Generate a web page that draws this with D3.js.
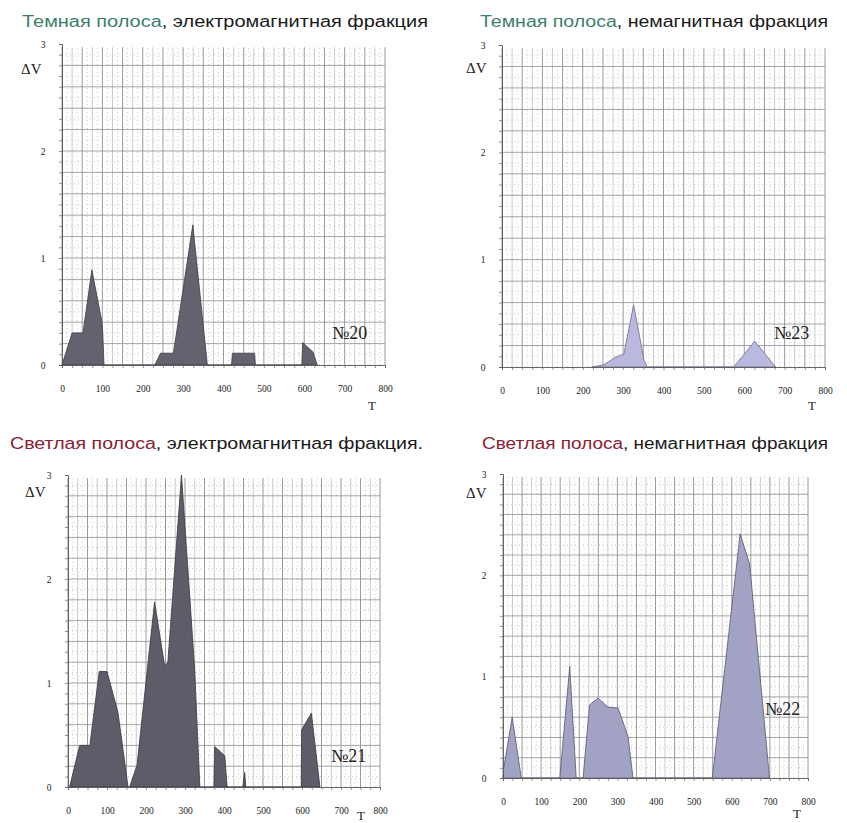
<!DOCTYPE html>
<html>
<head>
<meta charset="utf-8">
<script src="https://cdn.jsdelivr.net/npm/d3@7"></script>
<style>
  body { margin: 0; background: #fff; }
  svg { display: block; }
</style>
</head>
<body>
<svg width="847" height="823"></svg>
<script>
// ---- data ----
var xTickLabels = [0, 100, 200, 300, 400, 500, 600, 700, 800];
var yTickLabels = [0, 1, 2, 3];

// №20 dark band, electromagnetic fraction
var t20 = [0, 25, 52, 74, 98, 101, 104, 230, 244, 276, 324, 360, 420, 422, 477, 479, 594, 596, 622, 632];
var v20 = [0, 0.3, 0.3, 0.89, 0.42, 0.3, 0, 0, 0.11, 0.11, 1.31, 0, 0, 0.11, 0.11, 0, 0, 0.21, 0.12, 0];

// №23 dark band, non-magnetic fraction
var t23 = [222, 252, 281, 302, 326, 352, 360, 574, 626, 678];
var v23 = [0, 0.02, 0.09, 0.12, 0.58, 0.06, 0, 0, 0.24, 0];

// №21 light band, electromagnetic fraction
var t21 = [4, 30, 56, 80, 100, 128, 154, 158, 177, 222, 248, 256, 291, 325, 338, 374, 376, 402, 408, 448, 453, 456, 598, 599, 624, 646];
var v21 = [0, 0.4, 0.4, 1.11, 1.11, 0.72, 0, 0, 0.21, 1.78, 1.16, 1.2, 3.0, 1.12, 0, 0, 0.39, 0.3, 0, 0, 0.14, 0, 0, 0.55, 0.71, 0];

// №22 light band, non-magnetic fraction
var t22 = [0, 2, 24, 48, 131, 149, 156, 175, 192, 210, 227, 249, 275, 302, 328, 341, 549, 622, 647, 699];
var v22 = [0, 0.1, 0.6, 0, 0, 0, 0.3, 1.1, 0, 0, 0.72, 0.79, 0.7, 0.69, 0.41, 0, 0, 2.41, 2.11, 0];

var titleHead = ["Темная полоса", "Темная полоса", "Светлая полоса", "Светлая полоса"];
var titleTail = [", электромагнитная фракция", ", немагнитная фракция", ", электромагнитная фракция.", ", немагнитная фракция"];
var sampleLabels = ["№20", "№23", "№21", "№22"];

// ---- layout of the four panels ----
var panels = [
  {t: t20, v: v20, x0: 62, x1: 385, y0: 365, y3: 44, title: [22, 27, 406], head: "#3c7f68", fill: "#62636e", stroke: "#3a3a44", lab: [332, 339], T: [368, 410], dv: [21, 74]},
  {t: t23, v: v23, x0: 502, x1: 825, y0: 367, y3: 45, title: [480, 27, 348], head: "#3c7f68", fill: "#b9b9e0", stroke: "#6a6a8a", lab: [774, 339], T: [808, 410], dv: [466, 73]},
  {t: t21, v: v21, x0: 68, x1: 380, y0: 787, y3: 475, title: [10, 449, 413], head: "#8a2030", fill: "#5c5d68", stroke: "#36363f", lab: [331, 762], T: [357, 820], dv: [25, 497]},
  {t: t22, v: v22, x0: 503, x1: 808, y0: 778, y3: 474, title: [482, 449, 346], head: "#8a2030", fill: "#a2a2c4", stroke: "#55556e", lab: [765, 715], T: [793, 818], dv: [466, 498]}
];

var svg = d3.select("svg");

panels.forEach(function(p, i) {
  var x = d3.scaleLinear().domain([0, 800]).range([p.x0, p.x1]);
  var y = d3.scaleLinear().domain([0, 3]).range([p.y0, p.y3]);
  var g = svg.append("g");

  // graph paper: dotted minor grid and solid lines
  g.append("g").selectAll("line").data(d3.range(0, 801, 12.5)).enter().append("line")
    .attr("x1", function(d) { return x(d); }).attr("x2", function(d) { return x(d); })
    .attr("y1", y(0)).attr("y2", y(2.97))
    .attr("stroke", function(d) { return d % 50 == 0 ? "#8e8e8e" : "#b4b4b4"; })
    .attr("stroke-width", function(d) { return d % 50 == 0 ? 0.9 : 0.7; })
    .attr("stroke-dasharray", function(d) { return d % 25 == 0 ? null : "1,3"; });

  g.append("g").selectAll("line").data(d3.range(1, 30)).enter().append("line")
    .attr("x1", x(0)).attr("x2", x(800))
    .attr("y1", function(d) { return y(d / 10); }).attr("y2", function(d) { return y(d / 10); })
    .attr("stroke", function(d) { return d % 2 == 0 ? "#8e8e8e" : "#b4b4b4"; })
    .attr("stroke-width", function(d) { return d % 2 == 0 ? 0.8 : 0.7; })
    .attr("stroke-dasharray", function(d) { return d % 2 == 0 ? null : "1,3"; });

  // the area
  var pts = p.t.map(function(d, k) { return [d, p.v[k]]; });
  var area = d3.area()
    .x(function(d) { return x(d[0]); })
    .y0(y(0))
    .y1(function(d) { return y(d[1]); });
  g.append("path").datum(pts).attr("d", area)
    .attr("fill", p.fill).attr("stroke", p.stroke).attr("stroke-width", 0.8);

  // axes
  var ax = d3.axisBottom(x).tickValues(d3.range(0, 801, 25)).tickSize(3)
    .tickFormat(function(d) { return xTickLabels.indexOf(d) >= 0 ? d : ""; });
  var axG = g.append("g").attr("transform", "translate(0," + y(0) + ")").call(ax);
  axG.selectAll("text").attr("dy", "2.2em");

  var ay = d3.axisLeft(y).tickValues(d3.range(0, 31).map(function(d) { return d / 10; })).tickSize(3)
    .tickFormat(function(d) { return yTickLabels.indexOf(d) >= 0 ? d : ""; });
  var ayG = g.append("g").attr("transform", "translate(" + x(0) + ",0)").call(ay);
  ayG.selectAll("text").attr("dx", "-1.1em");

  [axG, ayG].forEach(function(a) {
    a.select(".domain").attr("stroke", "#555").attr("stroke-width", 0.9);
    a.selectAll(".tick line").attr("stroke", "#666").attr("stroke-width", 0.7);
    a.selectAll("text").attr("font-family", "Liberation Serif").attr("font-size", 9.5).attr("fill", "#222");
  });

  // texts
  var tt = svg.append("text").attr("x", p.title[0]).attr("y", p.title[1])
    .attr("font-family", "Liberation Sans, Arial").attr("font-size", 16)
    .attr("textLength", p.title[2]).attr("lengthAdjust", "spacingAndGlyphs");
  tt.append("tspan").attr("fill", p.head).text(titleHead[i]);
  tt.append("tspan").attr("fill", "#1a1a1a").text(titleTail[i]);

  svg.append("text").attr("x", p.lab[0]).attr("y", p.lab[1])
    .attr("font-family", "Liberation Serif").attr("font-size", 18).attr("fill", "#222")
    .text(sampleLabels[i]);

  svg.append("text").attr("x", p.T[0]).attr("y", p.T[1])
    .attr("font-family", "Liberation Serif").attr("font-size", 13).attr("fill", "#222")
    .text("T");

  svg.append("text").attr("x", p.dv[0]).attr("y", p.dv[1])
    .attr("font-family", "Liberation Serif").attr("font-size", 15).attr("fill", "#222")
    .text("ΔV");
});
</script>
</body>
</html>
